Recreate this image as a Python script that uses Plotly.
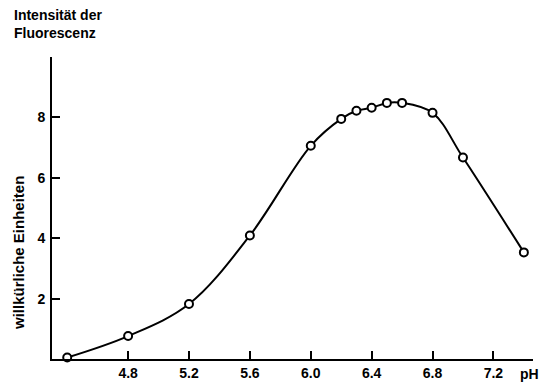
import plotly.graph_objects as go

# Fluorescence intensity as a function of pH
ph = [4.4, 4.8, 5.2, 5.6, 6.0, 6.2, 6.3, 6.4, 6.5, 6.6, 6.8, 7.0, 7.4]
intensity = [0.05, 0.76, 1.82, 4.09, 7.06, 7.95, 8.22, 8.32, 8.48, 8.48, 8.15, 6.67, 3.53]

x_ticks = [4.8, 5.2, 5.6, 6.0, 6.4, 6.8, 7.2]
x_tick_text = ["4.8", "5.2", "5.6", "6.0", "6.4", "6.8", "7.2"]
y_ticks = [2, 4, 6, 8]

font_family = "Liberation Sans, Arial, sans-serif"

fig = go.Figure()
fig.add_trace(go.Scatter(
    x=ph, y=intensity,
    mode="lines+markers",
    line=dict(color="black", width=2, shape="spline", smoothing=1.0),
    marker=dict(symbol="circle", size=8, color="white",
                line=dict(color="black", width=2)),
    cliponaxis=False,
    showlegend=False,
))

axis_common = dict(
    showgrid=False, zeroline=False, automargin=False,
    showline=True, linecolor="black", linewidth=2,
    ticks="inside", ticklen=8, tickwidth=2, tickcolor="black",
    tickfont=dict(family=font_family, size=14, color="black", weight="bold"),
)

fig.update_layout(
    width=541, height=382,
    margin=dict(l=52, r=8, t=57, b=23),
    paper_bgcolor="white", plot_bgcolor="white",
    xaxis=dict(range=[4.3, 7.46], tickvals=x_ticks, ticktext=x_tick_text,
               ticklabelstandoff=0, **axis_common),
    yaxis=dict(range=[0, 10], tickvals=y_ticks, ticklabelstandoff=2, **axis_common),
    font=dict(family=font_family, color="black"),
    annotations=[
        dict(text="Intensität der<br>Fluorescenz", xref="paper", yref="paper",
             x=-40/481, y=1 + 52/302, xanchor="left", yanchor="top", align="left",
             showarrow=False,
             font=dict(size=14, family=font_family, weight="bold")),
        dict(text="willkürliche Einheiten", xref="paper", yref="paper",
             x=-52/481 + 18/481, y=(359-253)/302, xanchor="center", yanchor="middle",
             textangle=-90, showarrow=False,
             font=dict(size=15, family=font_family, weight="bold")),
        dict(text="pH", xref="paper", yref="paper",
             x=1 + 8/481, y=-15/302, xanchor="right", yanchor="middle",
             showarrow=False, font=dict(size=14, family=font_family, weight="bold")),
    ],
)

fig.write_html("out.html")
